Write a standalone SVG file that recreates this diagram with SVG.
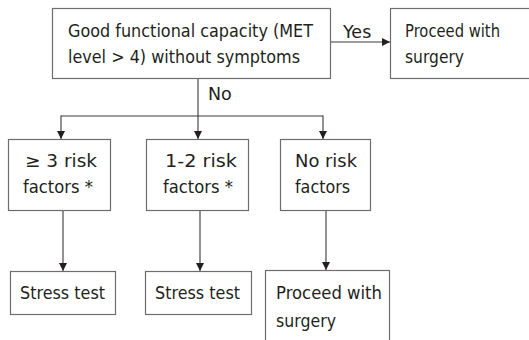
<svg xmlns="http://www.w3.org/2000/svg" width="529" height="340" viewBox="0 0 529 340">
<style>
.box{fill:#fff;stroke:#6d6d6d;stroke-width:1.2}
.t{font-family:"DejaVu Sans",Verdana,sans-serif;font-size:17.5px;fill:#231f20}
.ln{stroke:#3a3a3a;stroke-width:1.1;fill:none}
</style>
<defs>
<marker id="ah" viewBox="0 0 10 10" refX="10" refY="5" markerWidth="8" markerHeight="8" markerUnits="userSpaceOnUse" orient="auto">
<path d="M0,0 L10,5 L0,10 z" fill="#231f20"/>
</marker>
</defs>
<rect width="529" height="340" fill="#fff"/>
<g id="connectors">
<line class="ln" x1="330.5" y1="42" x2="390" y2="42" marker-end="url(#ah)"/>
<text class="t" x="343" y="38">Yes</text>
<line class="ln" x1="198" y1="78.5" x2="198" y2="139" marker-end="url(#ah)"/>
<text class="t" x="208" y="100">No</text>
<polyline class="ln" points="61,116 323,116"/>
<line class="ln" x1="61" y1="115.5" x2="61" y2="139" marker-end="url(#ah)"/>
<line class="ln" x1="323" y1="115.5" x2="323" y2="139" marker-end="url(#ah)"/>
<line class="ln" x1="63" y1="211" x2="63" y2="271" marker-end="url(#ah)"/>
<line class="ln" x1="200" y1="211" x2="200" y2="271" marker-end="url(#ah)"/>
<line class="ln" x1="326" y1="211" x2="326" y2="270" marker-end="url(#ah)"/>
</g>
<g id="n_top">
<rect class="box" x="52.5" y="8.5" width="278" height="70"/>
<text class="t" x="68" y="37" textLength="245" lengthAdjust="spacingAndGlyphs">Good functional capacity (MET</text>
<text class="t" x="68" y="63" textLength="232" lengthAdjust="spacingAndGlyphs">level &gt; 4) without symptoms</text>
</g>
<g id="n_yes">
<rect class="box" x="390.5" y="8.5" width="145" height="70"/>
<text class="t" x="405" y="37" textLength="95" lengthAdjust="spacingAndGlyphs">Proceed  with</text>
<text class="t" x="405" y="63" textLength="59" lengthAdjust="spacingAndGlyphs">surgery</text>
</g>
<g id="n_r3">
<rect class="box" x="8.5" y="139.5" width="102" height="71"/>
<text class="t" x="25" y="167" textLength="72" lengthAdjust="spacingAndGlyphs">≥  3  risk</text>
<text class="t" x="23" y="193" textLength="70" lengthAdjust="spacingAndGlyphs">factors *</text>
</g>
<g id="n_r12">
<rect class="box" x="146.5" y="139.5" width="102" height="71"/>
<text class="t" x="165" y="167" textLength="72" lengthAdjust="spacingAndGlyphs">1-2  risk</text>
<text class="t" x="163" y="193" textLength="70" lengthAdjust="spacingAndGlyphs">factors *</text>
</g>
<g id="n_r0">
<rect class="box" x="280.5" y="139.5" width="90" height="71"/>
<text class="t" x="295" y="167" textLength="62" lengthAdjust="spacingAndGlyphs">No  risk</text>
<text class="t" x="295" y="193" textLength="55" lengthAdjust="spacingAndGlyphs">factors</text>
</g>
<g id="n_s1">
<rect class="box" x="10.5" y="271.5" width="105" height="43"/>
<text class="t" x="20" y="299" textLength="85" lengthAdjust="spacingAndGlyphs">Stress test</text>
</g>
<g id="n_s2">
<rect class="box" x="145.5" y="271.5" width="106" height="43"/>
<text class="t" x="155" y="299" textLength="85" lengthAdjust="spacingAndGlyphs">Stress test</text>
</g>
<g id="n_proc">
<rect class="box" x="265.5" y="270.5" width="124" height="80"/>
<text class="t" x="276" y="299" textLength="106" lengthAdjust="spacingAndGlyphs">Proceed  with</text>
<text class="t" x="276" y="327" textLength="60" lengthAdjust="spacingAndGlyphs">surgery</text>
</g>
</svg>
